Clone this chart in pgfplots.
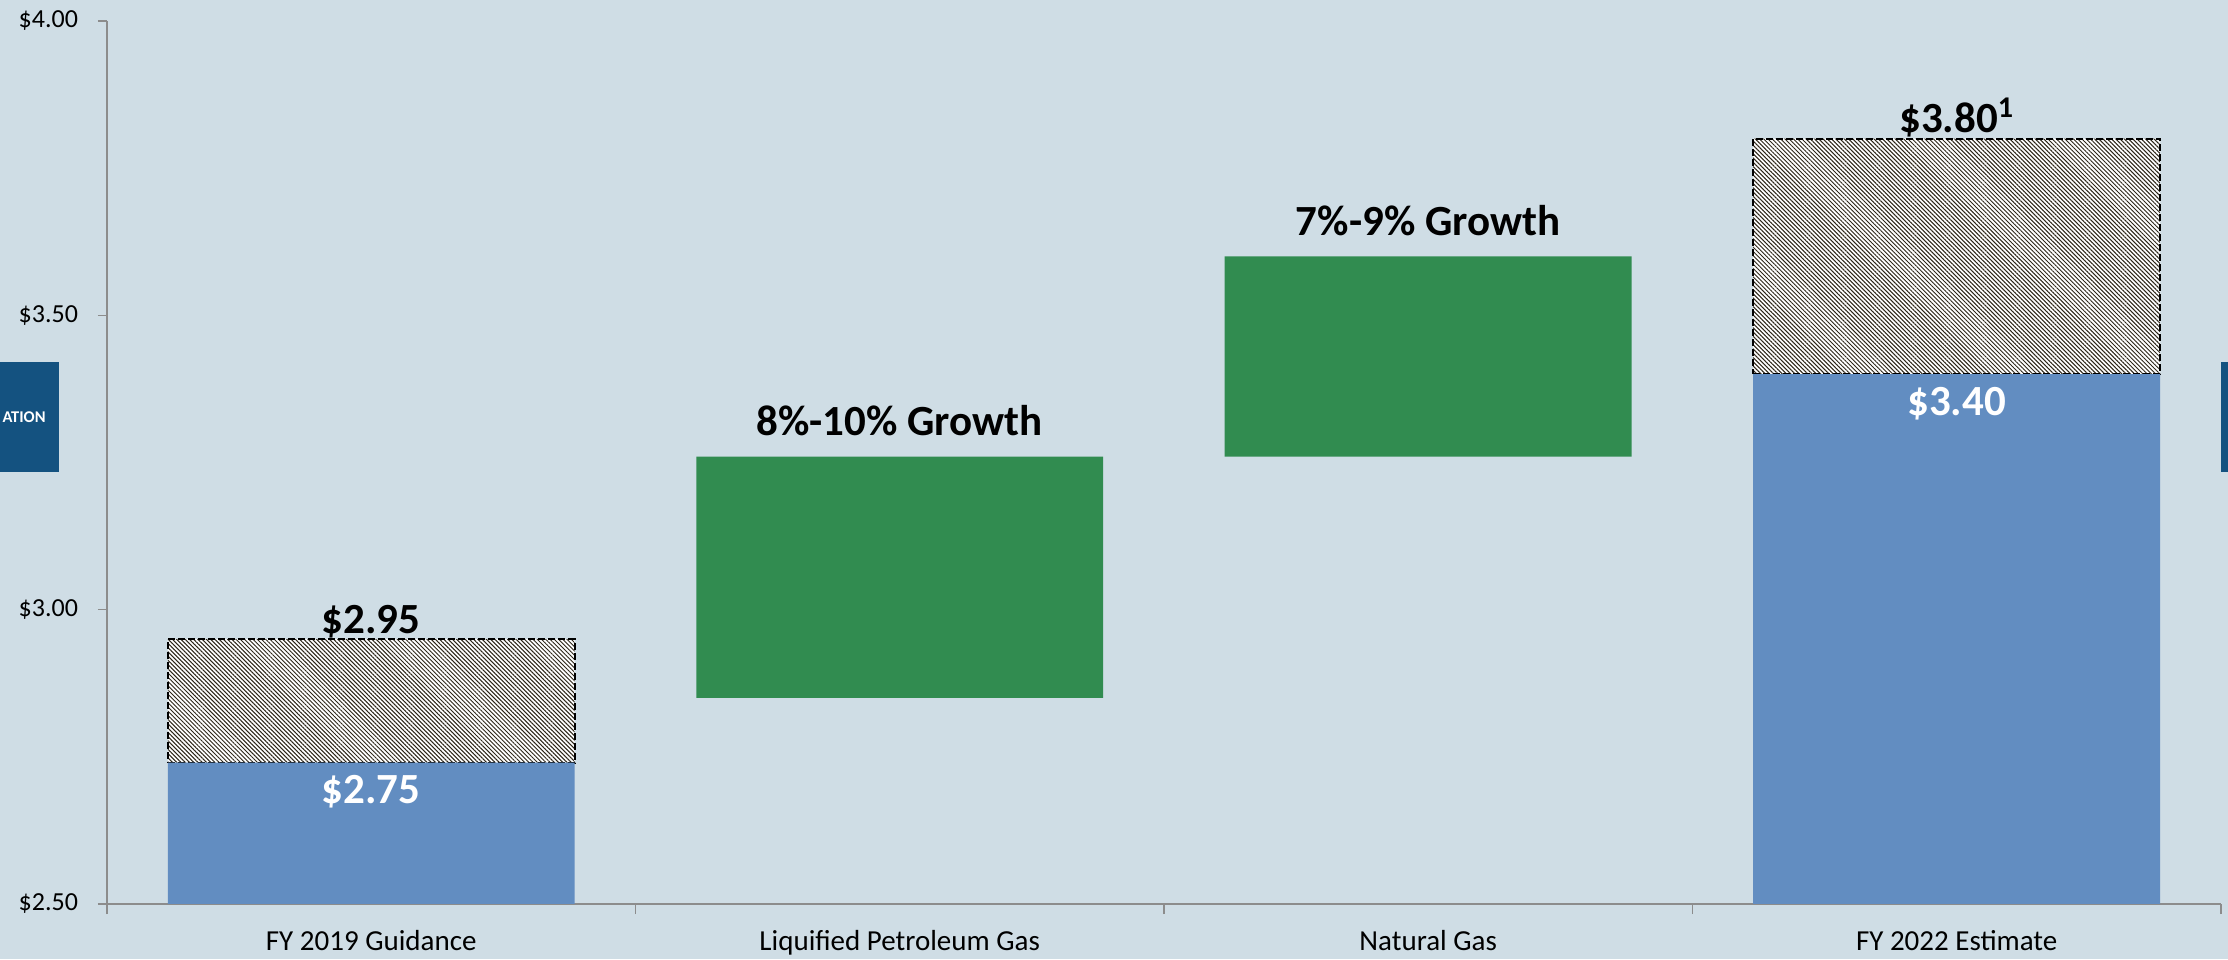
\documentclass[border=0pt]{standalone}
\usepackage{pgfplots}
\pgfplotsset{compat=1.18}
\usepackage{fontspec}
\setmainfont{Carlito}
\usetikzlibrary{patterns.meta}
\definecolor{bg}{RGB}{207,221,229}
\definecolor{barblue}{RGB}{98,141,193}
\definecolor{bargreen}{RGB}{49,140,80}
\definecolor{boxblue}{RGB}{20,82,128}
\definecolor{axgray}{RGB}{140,140,140}
\definecolor{hatch}{RGB}{45,38,25}
\begin{document}
\begin{tikzpicture}
\useasboundingbox (-53.5pt,-27.5pt) rectangle (1060.5pt,452pt);
\fill[bg] (-53.5pt,-27.5pt) rectangle (1060.5pt,452pt);
\fill[boxblue] (-53.5pt,216pt) rectangle (-24pt,271pt);
\node[anchor=east, text=white, font=\fontsize{8.2}{10}\selectfont\bfseries, inner sep=0pt] at (-30.5pt,243.5pt) {ATION};
\fill[boxblue] (1057pt,216pt) rectangle (1060.5pt,271pt);
\begin{axis}[
  scale only axis, width=1057pt, height=441.5pt,
  xmin=-0.5, xmax=3.5, ymin=2.5, ymax=4.0,
  ybar stacked, bar width=0.77,
  axis x line*=bottom, axis y line*=left,
  axis line style={draw=axgray, line width=0.8pt},
  tick align=outside,
  major tick length=4.5pt,
  ytick={2.5,3,3.5,4},
  yticklabels={\mbox{\$2.50},\mbox{\$3.00},\mbox{\$3.50},\mbox{\$4.00}},
  y tick label style={font=\fontsize{13}{15}\selectfont, xshift=-6.5pt},
  ytick style={draw=axgray, line width=0.8pt},
  xtick={0,1,2,3},
  xticklabels={FY 2019 Guidance, Liquified Petroleum Gas, Natural Gas, FY 2022 Estimate},
  x tick label style={font=\fontsize{14.5}{17}\selectfont, yshift=-5pt},
  xtick style={draw=none},
  extra x ticks={-0.5,0.5,1.5,2.5,3.5},
  extra x tick labels={},
  extra x tick style={xtick style={draw=axgray, line width=0.8pt}, major tick length=5pt},
]
\addplot[fill=barblue, draw=none] coordinates {(0,2.74) (3,3.40)};
\addplot[preaction={fill=white}, pattern={Lines[angle=-45,distance=1.5pt,line width=0.5pt]}, pattern color=hatch,
  draw=black, line width=0.9pt, dash pattern=on 3.5pt off 1.5pt]
  coordinates {(0,0.21) (3,0.40)};
\end{axis}
\begin{axis}[
  scale only axis, width=1057pt, height=441.5pt,
  xmin=-0.5, xmax=3.5, ymin=2.5, ymax=4.0,
  ybar stacked, bar width=0.77, hide axis,
]
\addplot[draw=none, fill=none] coordinates {(1,2.85) (2,3.26)};
\addplot[fill=bargreen, draw=none] coordinates {(1,0.41) (2,0.34)};
\end{axis}
\begin{axis}[
  scale only axis, width=1057pt, height=441.5pt,
  xmin=-0.5, xmax=3.5, ymin=2.5, ymax=4.0,
  hide axis, clip=false,
  point meta=explicit symbolic,
  nodes near coords,
  every node near coord/.append style={inner sep=0pt, font=\fontsize{21.5}{25}\selectfont\bfseries},
]
\addplot[draw=none, mark=none, every node near coord/.append style={anchor=base, text=white, yshift=-20.5pt}]
  coordinates {(0,2.74) [\$2.75] (3,3.40) [\$3.40]};
\addplot[draw=none, mark=none, every node near coord/.append style={anchor=base, text=black, yshift=3pt}]
  coordinates {(0,2.95) [\$2.95] (3,3.80) [\$3.80\textsuperscript{1}]};
\addplot[draw=none, mark=none, every node near coord/.append style={anchor=base, text=black, yshift=10.5pt}]
  coordinates {(1,3.26) [8\%-10\% Growth] (2,3.60) [7\%-9\% Growth]};
\end{axis}
\end{tikzpicture}
\end{document}
